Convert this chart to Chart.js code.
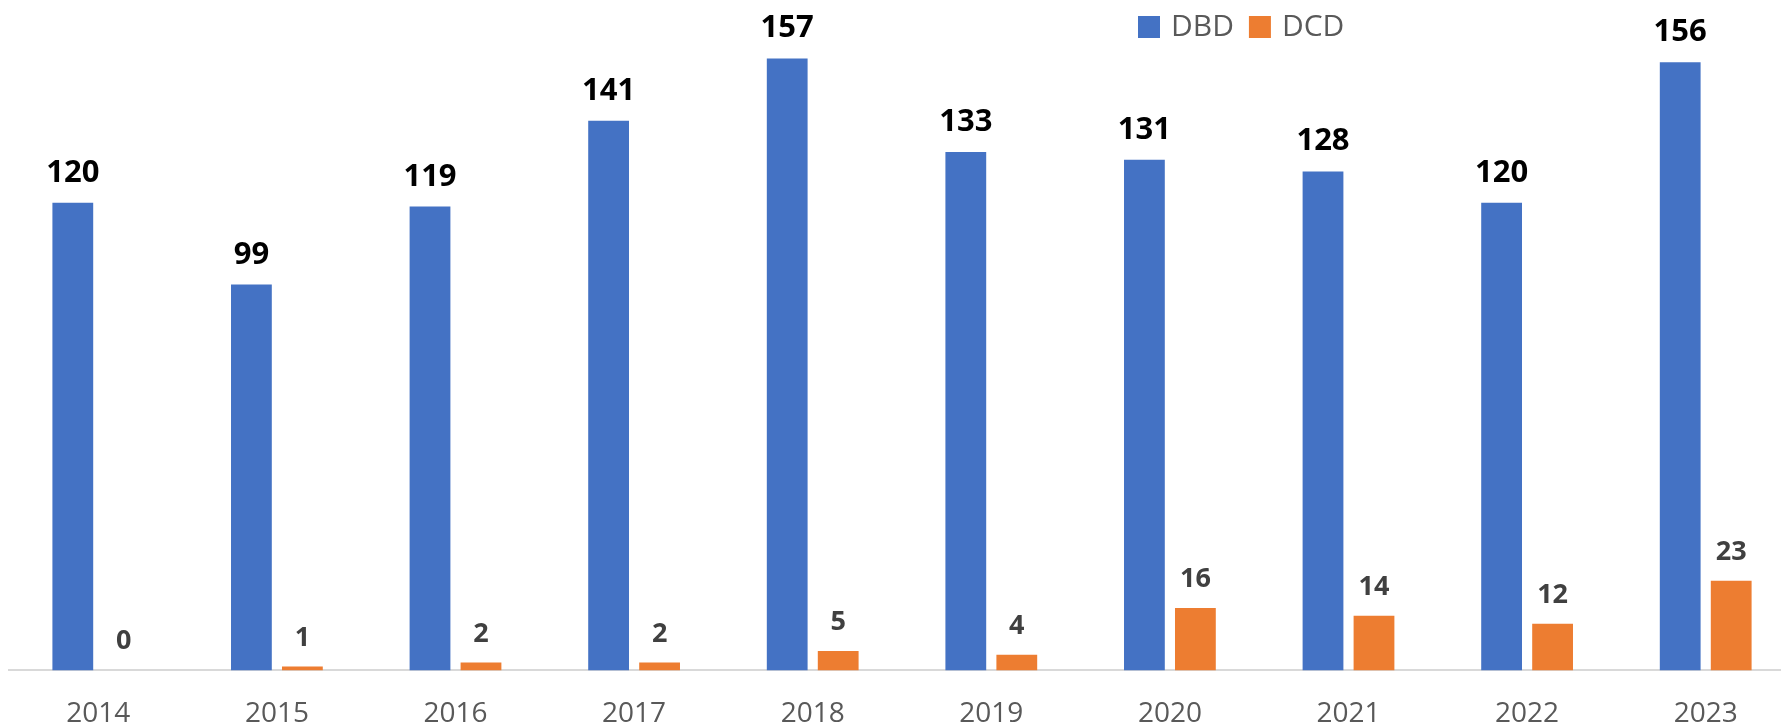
<!DOCTYPE html>
<html lang="en">
<head>
    <meta charset="UTF-8">
    <title>DBD / DCD</title>
    <script src="https://cdn.jsdelivr.net/npm/chart.js@4.4.0/dist/chart.umd.min.js"></script>
    <style>
        html, body { margin: 0; padding: 0; overflow: hidden; background: #fff; }
    </style>
</head>
<body>
    <canvas id="chart" width="1795" height="758"></canvas>
    <script>
        var years = ['2014', '2015', '2016', '2017', '2018', '2019', '2020', '2021', '2022', '2023'];
        var dbd = [120, 99, 119, 141, 157, 133, 131, 128, 120, 156];
        var dcd = [0, 1, 2, 2, 5, 4, 16, 14, 12, 23];

        // value labels above each bar
        var barLabels = {
            id: 'barLabels',
            afterDatasetsDraw: function (chart) {
                var ctx = chart.ctx;
                chart.data.datasets.forEach(function (ds, i) {
                    var meta = chart.getDatasetMeta(i);
                    ctx.save();
                    ctx.font = ds.labelFont;
                    ctx.fillStyle = ds.labelColor;
                    ctx.textAlign = 'center';
                    ctx.textBaseline = 'alphabetic';
                    meta.data.forEach(function (bar, j) {
                        ctx.fillText(ds.data[j], bar.x, bar.y - 21);
                    });
                    ctx.restore();
                });
            }
        };

        // legend placed like the original (right of centre, top)
        var topLegend = {
            id: 'topLegend',
            afterDraw: function (chart) {
                var ctx = chart.ctx;
                var x = 1138, y = 27;
                ctx.save();
                ctx.font = '30px "Open Sans"';
                ctx.textBaseline = 'middle';
                ctx.textAlign = 'left';
                chart.data.datasets.forEach(function (ds) {
                    ctx.fillStyle = ds.backgroundColor;
                    ctx.fillRect(x, y - 11, 22, 22);
                    ctx.fillStyle = '#595959';
                    ctx.fillText(ds.label, x + 33, y);
                    x += 33 + ctx.measureText(ds.label).width + 15;
                });
                ctx.restore();
            }
        };

        new Chart(document.getElementById('chart'), {
            type: 'bar',
            data: {
                labels: years,
                datasets: [{
                    label: 'DBD',
                    data: dbd,
                    backgroundColor: '#4472C4',
                    labelFont: 'bold 31px "Open Sans"',
                    labelColor: '#000000',
                    categoryPercentage: 0.571,
                    barPercentage: 0.8
                }, {
                    label: 'DCD',
                    data: dcd,
                    backgroundColor: '#ED7D31',
                    labelFont: 'bold 27px "Open Sans"',
                    labelColor: '#404040',
                    categoryPercentage: 0.571,
                    barPercentage: 0.8
                }]
            },
            options: {
                responsive: false,
                animation: false,
                layout: { padding: { left: 9, right: 0, top: 0, bottom: 0 } },
                plugins: {
                    legend: { display: false },
                    tooltip: { enabled: false }
                },
                scales: {
                    x: {
                        grid: { display: false, drawTicks: false },
                        border: { display: true, color: '#d9d9d9', width: 2 },
                        ticks: {
                            color: '#595959',
                            padding: 27,
                            font: { family: 'Open Sans', size: 28 }
                        }
                    },
                    y: {
                        display: false,
                        min: 0,
                        max: 172
                    }
                }
            },
            plugins: [barLabels, topLegend]
        });
    </script>
</body>
</html>
